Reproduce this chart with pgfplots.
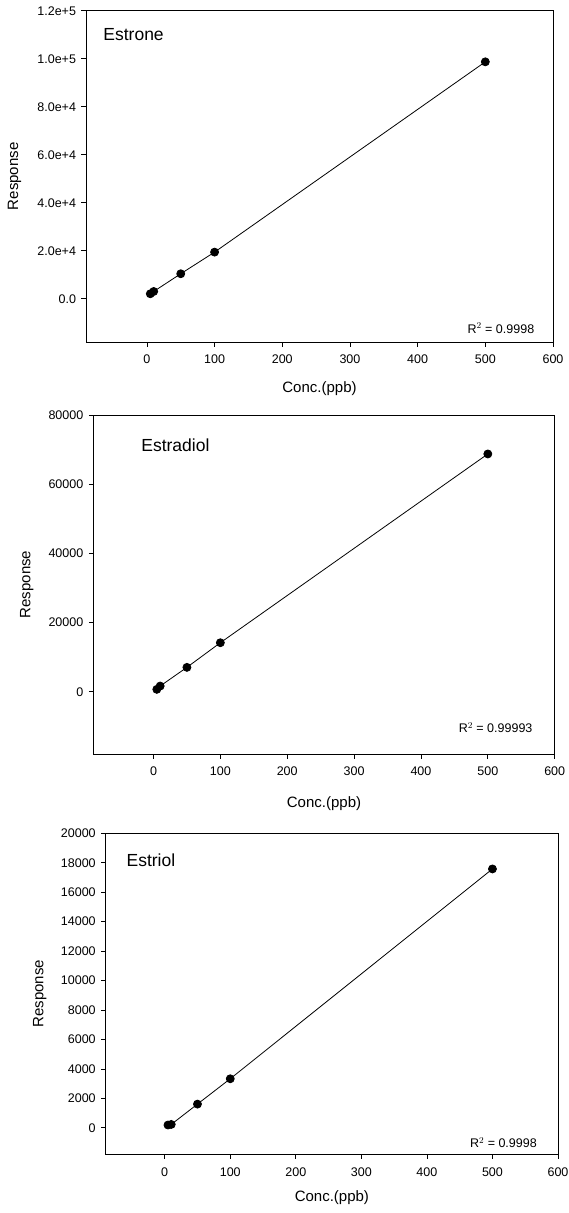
\documentclass[border=0pt]{standalone}
\usepackage{fontspec}
\setmainfont{Liberation Sans}
\usepackage{pgfplots}
\pgfplotsset{compat=1.18}
\pgfplotsset{
  panel/.style={
    scale only axis,
    anchor=south west,
    xmin=-90, xmax=600,
    xtick={0,100,...,600},
    tick align=outside,
    xtick pos=bottom, ytick pos=left,
    major tick length=4.5pt,
    minor tick num=0,
    axis line style={black, line width=0.7pt},
    tick style={black, line width=0.7pt},
    tick label style={font=\fontsize{12.5}{14}\selectfont},
    xticklabel style={yshift=-5pt},
    yticklabel style={xshift=-2pt},
    label style={font=\fontsize{15}{17}\selectfont},
    /pgf/number format/assume math mode=true,
    /pgf/number format/1000 sep={},
    scaled ticks=false,
    clip=false,
    xlabel={Conc.(ppb)},
    ylabel={Response},
  },
  curve/.style={black, line width=0.8pt, mark=*, mark size=4pt, mark options={fill=black, draw=black}},
}
\begin{document}
\begin{tikzpicture}
\useasboundingbox (0,0) rectangle (568pt,-1213pt);
% ---------- Estrone ----------
\begin{axis}[panel,
  at={(86pt,-342pt)}, width=467pt, height=331.3pt,
  ymin=-18000, ymax=120000,
  ytick={0,20000,40000,60000,80000,100000,120000},
  yticklabels={0.0,2.0e+4,4.0e+4,6.0e+4,8.0e+4,1.0e+5,1.2e+5},
  xlabel style={at={(axis description cs:0.5,-0.14)}, anchor=center},
  ylabel style={at={(axis description cs:-0.153,0.5)}, anchor=center},
]
\addplot[curve] coordinates {(5,2085) (10,3045) (50,10430) (100,19440) (500,98700)};
\node[anchor=west, font=\fontsize{17.5}{20}\selectfont] at (axis cs:-69.5,109900) {Estrone};
\node[anchor=east, font=\fontsize{12.5}{14}\selectfont] at (axis cs:577.5,-12200) {R$^{2}$ = 0.9998};
\end{axis}
% ---------- Estradiol ----------
\begin{axis}[panel,
  at={(93.3pt,-754pt)}, width=461.4pt, height=339pt,
  ymin=-18000, ymax=80000,
  ytick={0,20000,40000,60000,80000},
  xlabel style={at={(axis description cs:0.5,-0.145)}, anchor=center},
  ylabel style={at={(axis description cs:-0.144,0.5)}, anchor=center},
]
\addplot[curve] coordinates {(5,690) (10,1650) (50,7050) (100,14170) (500,68740)};
\node[anchor=west, font=\fontsize{17.5}{20}\selectfont] at (axis cs:-23.4,71300) {Estradiol};
\node[anchor=east, font=\fontsize{12.5}{14}\selectfont] at (axis cs:572,-10400) {R$^{2}$ = 0.99993};
\end{axis}
% ---------- Estriol ----------
\begin{axis}[panel,
  at={(105.7pt,-1154.3pt)}, width=452.3pt, height=321pt,
  ymin=-1800, ymax=20000,
  ytick={0,2000,...,20000},
  xlabel style={at={(axis description cs:0.5,-0.135)}, anchor=center},
  ylabel style={at={(axis description cs:-0.1455,0.5)}, anchor=center},
]
\addplot[curve] coordinates {(5,190) (10,230) (50,1610) (100,3330) (500,17580)};
\node[anchor=west, font=\fontsize{17.5}{20}\selectfont] at (axis cs:-63.5,18150) {Estriol};
\node[anchor=east, font=\fontsize{12.5}{14}\selectfont] at (axis cs:573,-1020) {R$^{2}$ = 0.9998};
\end{axis}
\end{tikzpicture}
\end{document}
